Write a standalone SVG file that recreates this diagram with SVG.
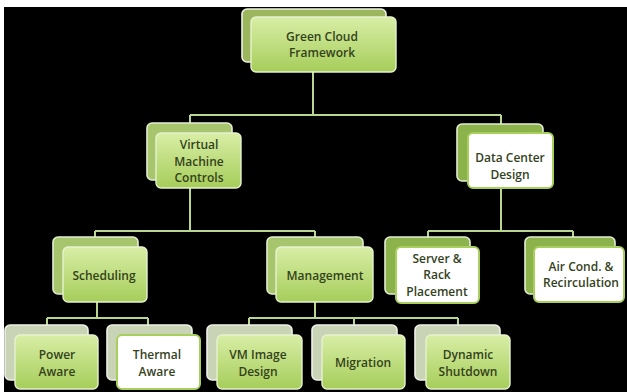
<svg xmlns="http://www.w3.org/2000/svg" width="627" height="392" viewBox="0 0 627 392">
<defs>
<linearGradient id="gf" x1="0" y1="0" x2="0" y2="1">
<stop offset="0" stop-color="#d8eea6"/>
<stop offset="1" stop-color="#a6cd5a"/>
</linearGradient>
<style>
.bk{stroke-width:1.6}
.bt{fill:#9cb65e;stroke:#eef2e4}
.bm{fill:#a6c56c;stroke:#e4edd4}
.bd{fill:#8cb24c;stroke:#e4edd4}
.bp{fill:#c9d4b6;stroke:#eef0e8}
.fg{fill:url(#gf);stroke:#e6f2cf;stroke-width:1.4}
.fw{fill:#ffffff;stroke:#a8cf5c;stroke-width:2}
.ln{fill:none;stroke:#b8d690;stroke-width:2}
text{font-family:"Open Sans","Liberation Sans",sans-serif;font-size:12px;font-weight:600;fill:#34421c;text-anchor:middle}
</style>
</defs>
<rect x="0" y="0" width="627" height="392" fill="#ffffff"/>
<rect x="4" y="7" width="623" height="385" fill="#000000"/>
<g id="connectors" class="ln">
<path d="M313,72 V115 M190,115 H501 M190,115 V123 M501,115 V124"/>
<path d="M190,188 V231 M95,231 H315 M95,231 V237 M315,231 V237"/>
<path d="M97,302 V318 M47,318 H148 M47,318 V325 M148,318 V325"/>
<path d="M315,302 V318 M249,318 H458 M249,318 V325 M354,318 V325 M458,318 V325"/>
<path d="M501,188 V231 M428,231 H573 M428,231 V237 M573,231 V237"/>
</g>
<g id="green-cloud">
<rect class="bk bt" x="242" y="9" width="144" height="53" rx="5"/>
<rect class="fg" x="251" y="17" width="145" height="55" rx="5"/>
<text x="322" y="41">Green Cloud</text>
<text x="322" y="57">Framework</text>
</g>
<g id="vm-controls">
<rect class="bk bm" x="147" y="123" width="85" height="57" rx="5"/>
<rect class="fg" x="156" y="133" width="85" height="55" rx="5"/>
<text x="199" y="149">Virtual</text>
<text x="199" y="166">Machine</text>
<text x="199" y="182">Controls</text>
</g>
<g id="dc-design">
<rect class="bk bd" x="457" y="124" width="86" height="57" rx="5"/>
<rect class="fw" x="468" y="133" width="85" height="55" rx="5"/>
<text x="510" y="162">Data Center</text>
<text x="510" y="179">Design</text>
</g>
<g id="scheduling">
<rect class="bk bm" x="53" y="237" width="85" height="57" rx="5"/>
<rect class="fg" x="63" y="247" width="84" height="55" rx="5"/>
<text x="104" y="280">Scheduling</text>
</g>
<g id="management">
<rect class="bk bm" x="267" y="237" width="96" height="57" rx="5"/>
<rect class="fg" x="276" y="247" width="97" height="55" rx="5"/>
<text x="325" y="280">Management</text>
</g>
<g id="server-rack">
<rect class="bk bd" x="385" y="237" width="85" height="57" rx="5"/>
<rect class="fw" x="396" y="247" width="83" height="56" rx="5"/>
<text x="437" y="263">Server &amp;</text>
<text x="437" y="279">Rack</text>
<text x="437" y="296">Placement</text>
</g>
<g id="air-cond">
<rect class="bk bd" x="525" y="237" width="90" height="57" rx="5"/>
<rect class="fw" x="534" y="247" width="90" height="55" rx="5"/>
<text x="581" y="271">Air Cond. &amp;</text>
<text x="581" y="287">Recirculation</text>
</g>
<g id="power-aware">
<rect class="bk bp" x="5" y="325" width="83" height="55" rx="5"/>
<rect class="fg" x="15" y="335" width="83" height="54" rx="5"/>
<text x="57" y="359">Power</text>
<text x="57" y="376">Aware</text>
</g>
<g id="thermal-aware">
<rect class="bk bp" x="107" y="325" width="85" height="55" rx="5"/>
<rect class="fw" x="117" y="335" width="83" height="54" rx="5"/>
<text x="157" y="359">Thermal</text>
<text x="157" y="376">Aware</text>
</g>
<g id="vm-image">
<rect class="bk bp" x="207" y="325" width="85" height="55" rx="5"/>
<rect class="fg" x="217" y="335" width="85" height="54" rx="5"/>
<text x="258" y="359">VM Image</text>
<text x="258" y="376">Design</text>
</g>
<g id="migration">
<rect class="bk bp" x="312" y="325" width="85" height="55" rx="5"/>
<rect class="fg" x="322" y="335" width="83" height="54" rx="5"/>
<text x="363" y="367">Migration</text>
</g>
<g id="dynamic-shutdown">
<rect class="bk bp" x="415" y="325" width="85" height="55" rx="5"/>
<rect class="fg" x="426" y="335" width="84" height="54" rx="5"/>
<text x="468" y="359">Dynamic</text>
<text x="468" y="376">Shutdown</text>
</g>
</svg>
